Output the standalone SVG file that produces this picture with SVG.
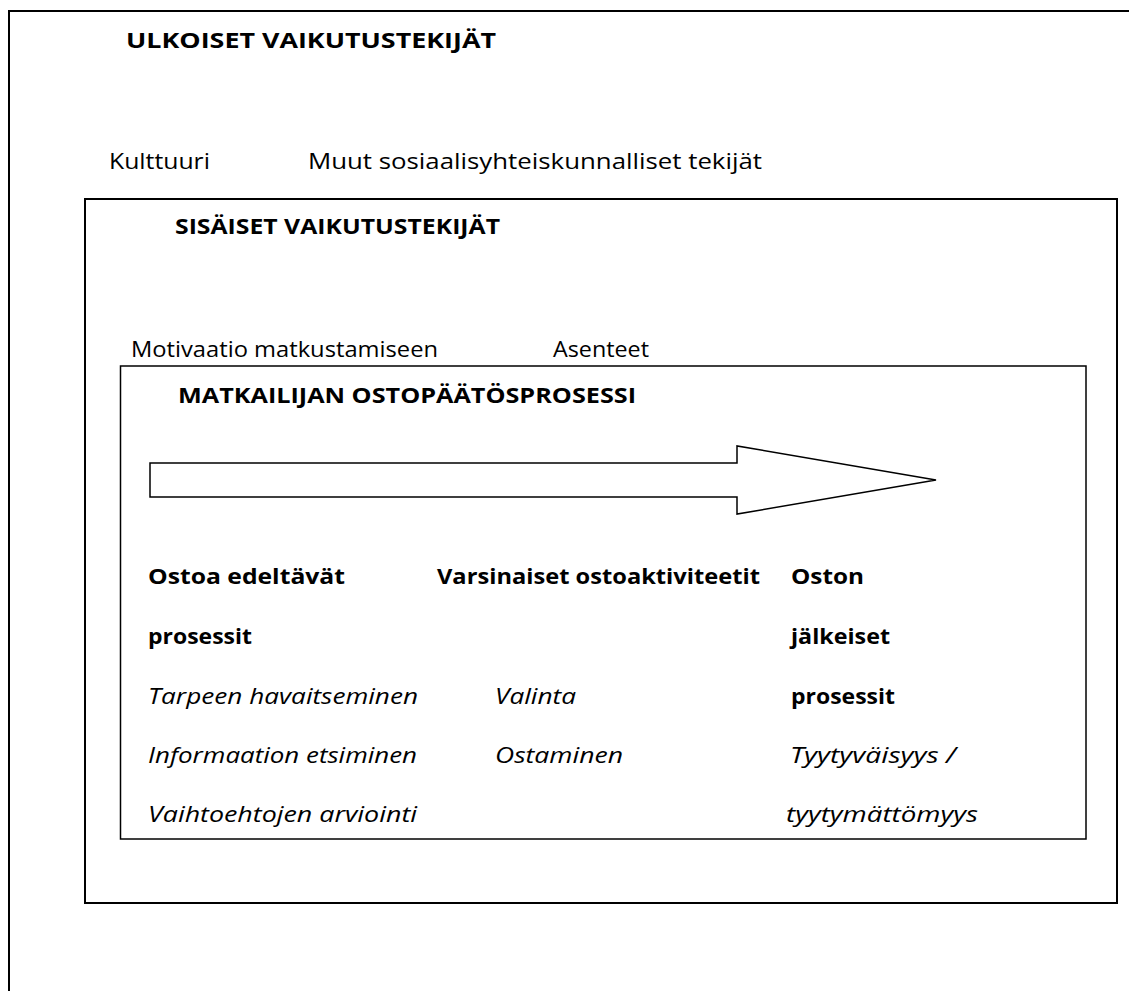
<svg xmlns="http://www.w3.org/2000/svg" width="1129" height="991" viewBox="0 0 1129 991">
<style>
.box{fill:none;stroke:#000;stroke-width:2}
.thin{fill:#fff;stroke:#000;stroke-width:1.5}
text{font-family:"Open Sans","Liberation Sans",sans-serif;font-size:21px;fill:#000}
.b{font-weight:bold}
.i{font-style:italic}
</style>
<rect width="1129" height="991" fill="#fff"/>
<g id="outer">
<rect class="box" x="9" y="11" width="1130" height="1000"/>
<text class="b" x="126" y="48" textLength="370" lengthAdjust="spacingAndGlyphs">ULKOISET VAIKUTUSTEKIJÄT</text>
<text x="109" y="169" textLength="101" lengthAdjust="spacingAndGlyphs">Kulttuuri</text>
<text x="308" y="169" textLength="454" lengthAdjust="spacingAndGlyphs">Muut sosiaalisyhteiskunnalliset tekijät</text>
</g>
<g id="inner">
<rect class="box" x="85" y="199" width="1032" height="704"/>
<text class="b" x="175" y="234" textLength="325" lengthAdjust="spacingAndGlyphs">SISÄISET VAIKUTUSTEKIJÄT</text>
<text x="131" y="357" textLength="307" lengthAdjust="spacingAndGlyphs">Motivaatio matkustamiseen</text>
<text x="553" y="357" textLength="96" lengthAdjust="spacingAndGlyphs">Asenteet</text>
</g>
<g id="process">
<rect class="thin" x="120.5" y="366" width="965.5" height="473"/>
<text class="b" x="178" y="403" textLength="458" lengthAdjust="spacingAndGlyphs">MATKAILIJAN OSTOPÄÄTÖSPROSESSI</text>
</g>
<g id="connectors">
<path class="thin" d="M150,463 H737 V446 L936,480 L737,514 V497 H150 Z"/>
</g>
<g id="col1">
<text class="b" x="148" y="584" textLength="197" lengthAdjust="spacingAndGlyphs">Ostoa edeltävät</text>
<text class="b" x="148" y="644" textLength="104" lengthAdjust="spacingAndGlyphs">prosessit</text>
<text class="i" x="148" y="704" textLength="270" lengthAdjust="spacingAndGlyphs">Tarpeen havaitseminen</text>
<text class="i" x="148" y="763" textLength="269" lengthAdjust="spacingAndGlyphs">Informaation etsiminen</text>
<text class="i" x="148" y="822" textLength="269" lengthAdjust="spacingAndGlyphs">Vaihtoehtojen arviointi</text>
</g>
<g id="col2">
<text class="b" x="437" y="584" textLength="323" lengthAdjust="spacingAndGlyphs">Varsinaiset ostoaktiviteetit</text>
<text class="i" x="495" y="704" textLength="81" lengthAdjust="spacingAndGlyphs">Valinta</text>
<text class="i" x="495" y="763" textLength="128" lengthAdjust="spacingAndGlyphs">Ostaminen</text>
</g>
<g id="col3">
<text class="b" x="791" y="584" textLength="73" lengthAdjust="spacingAndGlyphs">Oston</text>
<text class="b" x="791" y="644" textLength="99" lengthAdjust="spacingAndGlyphs">jälkeiset</text>
<text class="b" x="791" y="704" textLength="104" lengthAdjust="spacingAndGlyphs">prosessit</text>
<text class="i" x="790" y="763" textLength="166" lengthAdjust="spacingAndGlyphs">Tyytyväisyys /</text>
<text class="i" x="786" y="822" textLength="192" lengthAdjust="spacingAndGlyphs">tyytymättömyys</text>
</g>
</svg>
